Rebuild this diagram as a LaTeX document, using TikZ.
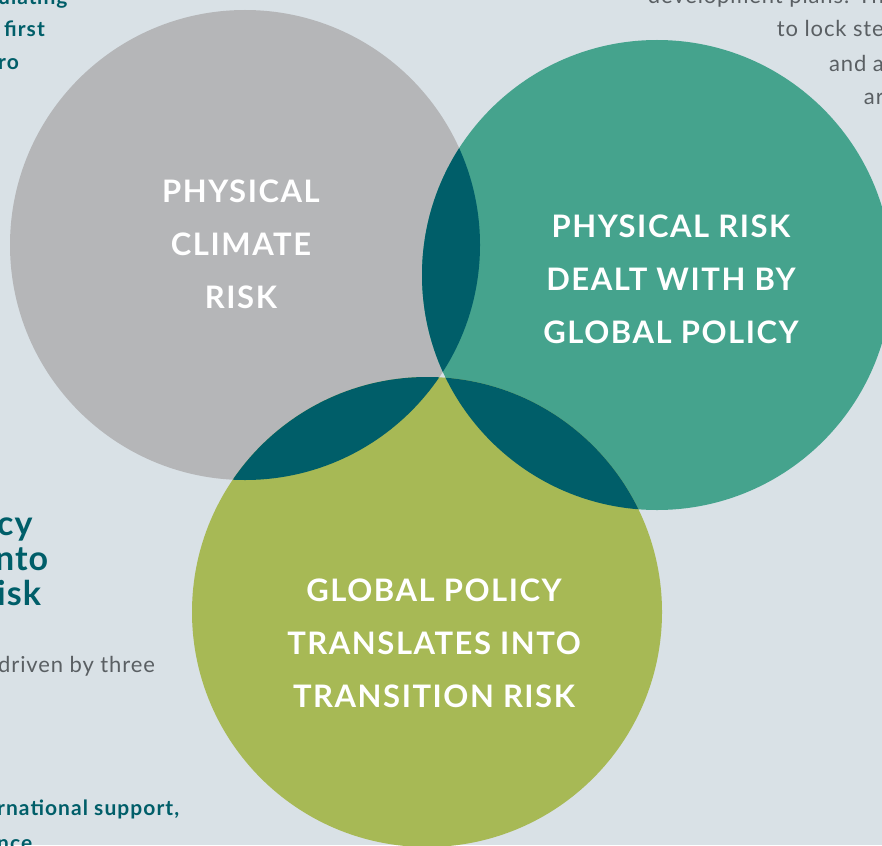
\documentclass[tikz,border=0pt]{standalone}
\usepackage{fontspec}
\setmainfont{Lato}
\usepackage{tikz}
\usetikzlibrary{positioning}
\definecolor{bgcol}{HTML}{D9E1E6}
\definecolor{greycol}{HTML}{B5B6B8}
\definecolor{tealcol}{HTML}{45A38D}
\definecolor{greencol}{HTML}{A7B955}
\definecolor{darkcol}{HTML}{005E69}
\definecolor{textgrey}{HTML}{5A5F63}
\tikzset{
    %Define style for the big circles
    blob/.style={
           circle,
           minimum size=470pt,
           inner sep=0pt},
    %Define style for the labels in the circles
    blobtext/.style={
           text=white,
           align=center,
           font=\addfontfeatures{LetterSpace=5}\fontsize{31}{53}\selectfont\bfseries},
    % text cut off at the edges
    sidebold/.style={
           text=darkcol,
           align=left,
           inner sep=0pt,
           font=\addfontfeatures{LetterSpace=5}\fontsize{21}{33}\selectfont\bfseries},
    sidegrey/.style={
           text=textgrey,
           inner sep=0pt,
           font=\addfontfeatures{LetterSpace=4}\fontsize{22}{33}\selectfont},
    sidebig/.style={
           sidebold,
           font=\addfontfeatures{LetterSpace=3}\fontsize{34}{35}\selectfont\bfseries}
}
\begin{document}
\begin{tikzpicture}[x=1pt,y=-1pt]

\useasboundingbox (0,0) rectangle (882,845);
\fill[bgcol] (0,0) rectangle (882,845);

 %circles
\node[blob, fill=greycol](grey) at (245,245){};
\node[blob, fill=tealcol](teal) at (657,275){};
\node[blob, fill=greencol](green) at (427,612){};

 %overlaps
\begin{scope}
\clip (grey.center) circle (235pt);
\fill[darkcol] (teal.center) circle (235pt);
\fill[darkcol] (green.center) circle (235pt);
\end{scope}
\begin{scope}
\clip (teal.center) circle (235pt);
\fill[darkcol] (green.center) circle (235pt);
\end{scope}

 %labels
\node[blobtext](physical) at (241,244){PHYSICAL\\CLIMATE\\RISK};
\node[blobtext](dealt) at (671,279){PHYSICAL RISK\\DEALT WITH BY\\GLOBAL POLICY};
\node[blobtext](transl) at (434,643){GLOBAL POLICY\\TRANSLATES INTO\\TRANSITION RISK};

 %text at the edges
\node[sidebold, anchor=base west](tl1) at (-2,5){ulating};
\node[sidebold, anchor=base west](tl2) at (4,37){first};
\node[sidebold, anchor=base west](tl3) at (-2,70){ro};
\node[sidegrey, anchor=base east](tr1) at (884,4){development plans. Th};
\node[sidegrey, anchor=base east](tr2) at (884,37){to lock ste};
\node[sidegrey, anchor=base east](tr3) at (884,72){and a};
\node[sidegrey, anchor=base east](tr4) at (884,105){ar};
\node[sidebig, anchor=base west](ml1) at (-3,535){cy};
\node[sidebig, anchor=base west](ml2) at (-5,570){nto};
\node[sidebig, anchor=base west](ml3) at (-3,605){isk};
\node[sidegrey, anchor=base west](ml4) at (-2,672){driven by three};
\node[sidebold, anchor=base west](bl1) at (-3,815){rnational support,};
\node[sidebold, anchor=base west](bl2) at (-3,850){nce};
\end{tikzpicture}
\end{document}
